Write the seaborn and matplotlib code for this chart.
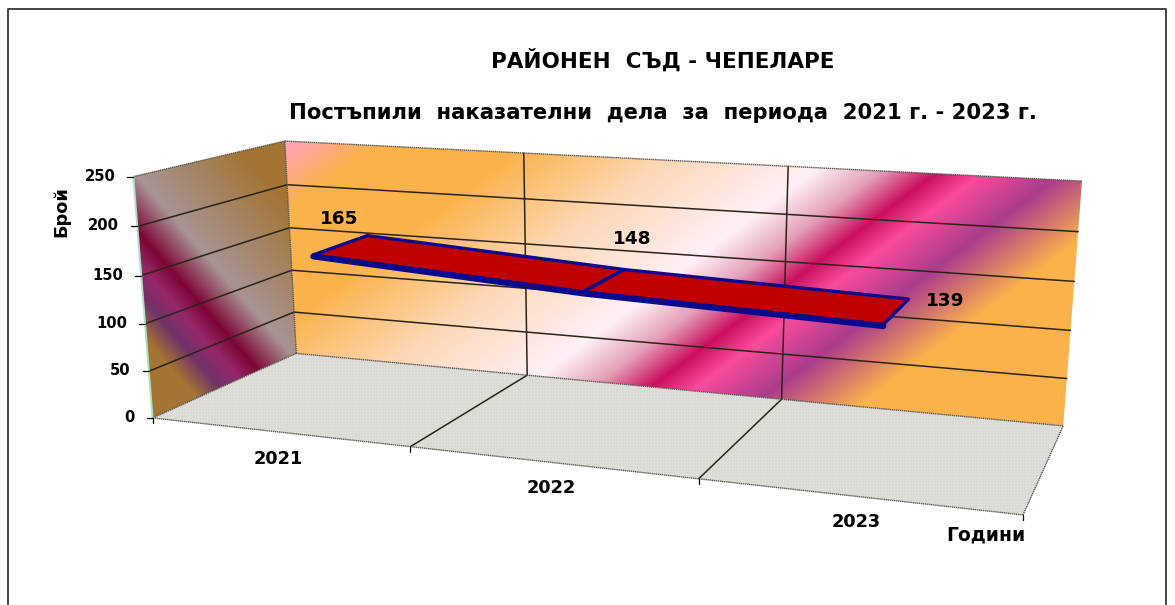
import numpy as np
import pandas as pd
import matplotlib
matplotlib.use("Agg")
import matplotlib.pyplot as plt
import seaborn as sns
from matplotlib.patches import Polygon

# ---- data ----
years = ["2021", "2022", "2023"]
cases = [165, 148, 139]
y_ticks = [0, 50, 100, 150, 200, 250]
title_1 = "РАЙОНЕН  СЪД - ЧЕПЕЛАРЕ"
title_2 = "Постъпили  наказателни  дела  за  периода  2021 г. - 2023 г."
y_title = "Брой"
x_title = "Години"

W, H = 1175, 605
sns.set_theme(style="white")
plt.rcParams["font.family"] = ["DejaVu Sans"]
plt.rcParams["font.weight"] = "bold"

fig = plt.figure(figsize=(W / 100, H / 100), dpi=100)
ax = fig.add_axes([0, 0, 1, 1])
ax.set_xlim(0, W)
ax.set_ylim(H, 0)
ax.axis("off")

# ---- projection of the chart box: (category, depth, value) -> picture ----
n_cat, y_max = len(years), max(y_ticks)
anchors_3d = np.array([
    [0, 0, 0], [n_cat, 0, 0], [0, 1, 0], [n_cat, 1, 0],
    [0, 0, y_max], [0, 1, y_max], [n_cat, 1, y_max],
    [1, 0, 0], [2, 0, 0], [1, 1, 0], [2, 1, 0], [1, 1, y_max], [2, 1, y_max],
], float)
anchors_px = np.array([
    [153, 417], [1023, 515], [296, 353], [1063, 425],
    [133, 177], [285, 141], [1082, 181],
    [410, 447], [699, 479], [527, 376], [782, 400], [524, 153], [788, 166],
], float)
rows = []
for (X, Y, Z), (u, v) in zip(anchors_3d, anchors_px):
    rows.append([X, Y, Z / 100, 1, 0, 0, 0, 0, -u * X, -u * Y, -u * Z / 100, -u])
    rows.append([0, 0, 0, 0, X, Y, Z / 100, 1, -v * X, -v * Y, -v * Z / 100, -v])
P = np.linalg.svd(np.array(rows))[2][-1].reshape(3, 4)


def proj(x, d, z):
    x, d, z = np.broadcast_arrays(np.asarray(x, float), np.asarray(d, float), np.asarray(z, float))
    p = P @ np.vstack([x.ravel(), d.ravel(), z.ravel() / 100, np.ones(x.size)])
    return p[0] / p[2], p[1] / p[2]


def quad(a, b):
    """polygon through picture points of two 3-D edges"""
    xa, ya = proj(*a)
    xb, yb = proj(*b)
    return np.column_stack([np.r_[xa, xb[::-1]], np.r_[ya, yb[::-1]]])


gx, gy = np.meshgrid(np.arange(W) + 0.5, np.arange(H) + 0.5)


def ramp(t, stops):
    pos = [s[0] for s in stops]
    return np.dstack([np.interp(t, pos, [s[1][i] / 255 for s in stops]) for i in range(3)])


def painted(poly, rgb, z):
    im = ax.imshow(rgb, extent=(0, W, H, 0), zorder=z, aspect="auto", interpolation="bilinear")
    patch = Polygon(poly, closed=True, transform=ax.transData, fc="none", ec="none")
    ax.add_patch(patch)
    im.set_clip_path(patch)


ORANGE = (251, 178, 75)
back_stops = [(284, (255, 160, 195)), (340, ORANGE), (430, ORANGE), (525, (253, 215, 180)),
              (625, (255, 240, 248)), (665, (228, 160, 185)), (700, (203, 15, 95)),
              (728, (250, 75, 155)), (776, (170, 60, 140)), (840, ORANGE), (1100, ORANGE)]
BROWN = (163, 116, 50)
side_stops = [(-200, BROWN), (-112, BROWN), (-88, (112, 50, 105)), (-68, (150, 40, 105)),
              (-48, (125, 5, 55)), (-12, (168, 148, 148)), (85, BROWN), (200, BROWN)]

back_poly = quad(([0, 3], [1, 1], [0, 0]), ([0, 3], [1, 1], [y_max, y_max]))
side_poly = quad(([0, 0], [0, 1], [0, 0]), ([0, 0], [0, 1], [y_max, y_max]))
floor_poly = quad(([0, 3], [0, 0], [0, 0]), ([0, 3], [1, 1], [0, 0]))

painted(back_poly, ramp(0.6 * gx + 0.8 * gy, back_stops), 1)
painted(side_poly, ramp(0.755 * gx - 0.656 * gy, side_stops), 1)
tex = np.empty((H, W, 3))
tex[...] = (219 / 255, 218 / 255, 213 / 255)
tex[::3, ::3] = (230 / 255, 229 / 255, 225 / 255)
painted(floor_poly, tex, 1)

# ---- frame edges and gridlines ----
GRID = "#2b2418"
for v in y_ticks[1:-1]:
    xs, ys = proj([0, 0, 3], [0, 1, 1], [v, v, v])
    ax.plot(xs, ys, color=GRID, lw=1.1, zorder=2)
for c in range(1, n_cat):
    xs, ys = proj([c, c, c], [0, 1, 1], [0, 0, y_max])
    ax.plot(xs, ys, color=GRID, lw=1.1, zorder=2)
EDGE = "#55554f"
for a in [([0, 3], [0, 0], [0, 0]), ([0, 3], [1, 1], [0, 0]), ([0, 0], [0, 1], [0, 0]),
          ([3, 3], [0, 1], [0, 0]), ([0, 3], [1, 1], [y_max, y_max]),
          ([0, 0], [0, 1], [y_max, y_max]), ([0, 0], [1, 1], [0, y_max])]:
    xs, ys = proj(*a)
    ax.plot(xs, ys, color=EDGE, lw=1.0, ls=(0, (1, 0.5)), zorder=2)
xs, ys = proj([0, 0], [0, 0], [0, y_max])
ax.plot(xs, ys, color="#a9e2c8", lw=1.4, zorder=2)

# ---- axis ticks and labels ----
for v in y_ticks:
    x0, y0 = proj(0, 0, v)
    ax.plot([x0[0] - 6, x0[0]], [y0[0], y0[0]], color="black", lw=0.9, zorder=3)
    ax.text(x0[0] - 18, y0[0] - 0.5, str(v), ha="right", va="center", fontsize=10.6, color="black", zorder=4)
for c in range(0, n_cat + 1):
    x0, y0 = proj(c, 0, 0)
    ax.plot([x0[0], x0[0]], [y0[0], y0[0] + 5], color="black", lw=0.9, zorder=3)
year_offsets = [(0, 27), (1, 26), (0, 26)]
for i, yr in enumerate(years):
    x0, y0 = proj(i + 0.5, 0, 0)
    ax.text(x0[0] + year_offsets[i][0], y0[0] + year_offsets[i][1], yr, ha="center", va="center",
            fontsize=12.8, color="black", zorder=4)
ax.text(986, 535, x_title, ha="center", va="center", fontsize=13.5, color="black", zorder=4)
ax.text(61, 212, y_title, ha="center", va="center", rotation=90, fontsize=12.8, color="black", zorder=4)

# ---- ribbon series ----
df = pd.DataFrame({"year": years, "cases": cases})
cat = np.arange(n_cat) + 0.5
D0, D1 = 0.30, 0.70
RED, NAVY = "#C00000", "#0A0A8C"
for i in range(n_cat - 1):
    seg = quad((cat[i:i + 2], [D0, D0], df["cases"].values[i:i + 2]),
               (cat[i:i + 2], [D1, D1], df["cases"].values[i:i + 2]))
    ax.add_patch(Polygon(seg, closed=True, fc=RED, ec=NAVY, lw=2.4, joinstyle="round", zorder=5))
fx, fy = proj(cat, D0, df["cases"].values)
sns.lineplot(x=fx, y=fy + 1.5, sort=False, estimator=None, color=NAVY, lw=4.4, ax=ax, zorder=6,
             solid_capstyle="round", legend=False)

label_offsets = [(-2, -26), (28, -41), (49, -10)]
for i, v in enumerate(cases):
    bx, by = proj(cat[i], 0.5, v)
    ax.text(bx[0] + label_offsets[i][0], by[0] + label_offsets[i][1], str(v), ha="center", va="center",
            fontsize=13.3, color="black", zorder=7)

# ---- titles and frame ----
ax.text(663, 60, title_1, ha="center", va="center", fontsize=15.5, color="black")
ax.text(663, 113, title_2, ha="center", va="center", fontsize=15.2, color="black")
ax.plot([8, 8, 1166, 1166], [H, 9, 9, H], color="#444444", lw=1.4, zorder=8)

fig.savefig("out.png", dpi=100)
